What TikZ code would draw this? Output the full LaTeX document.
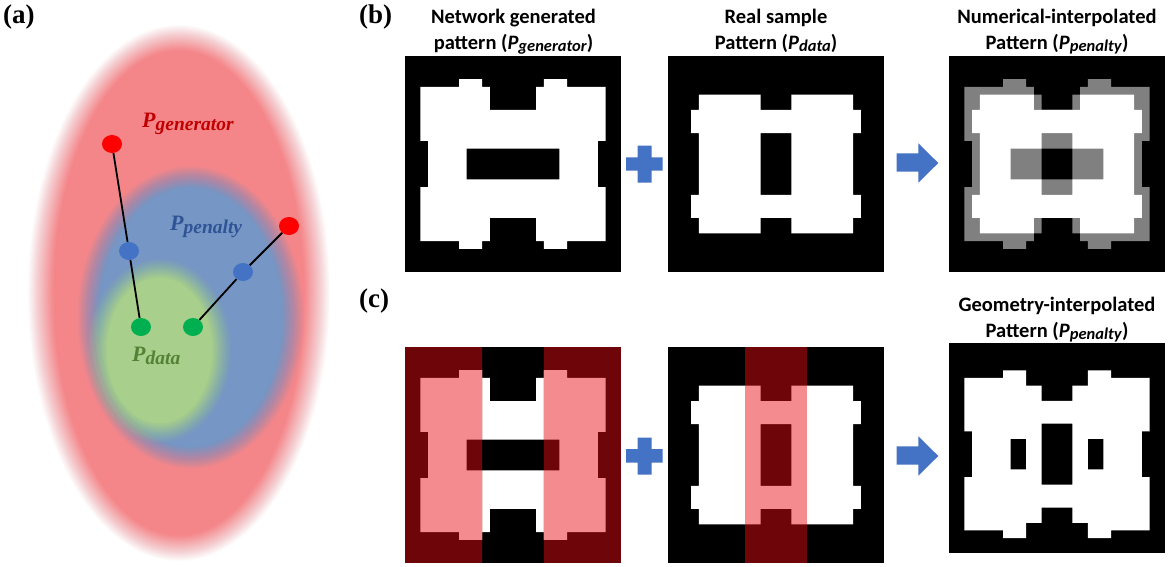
\documentclass[tikz,border=0pt]{standalone}
\usepackage{fontspec}
\setmainfont{Liberation Serif}
\newfontfamily\calfont{Carlito}
\usetikzlibrary{shapes.geometric}
\definecolor{ellred}{RGB}{244,134,138}
\definecolor{ellblue}{RGB}{118,150,197}
\definecolor{ellgreen}{RGB}{168,208,140}
\definecolor{dotred}{RGB}{255,0,0}
\definecolor{dotblue}{RGB}{68,114,196}
\definecolor{dotgreen}{RGB}{0,176,80}
\definecolor{gencol}{RGB}{192,0,0}
\definecolor{pencol}{RGB}{47,84,150}
\definecolor{datcol}{RGB}{84,130,53}
\definecolor{plusblue}{RGB}{68,114,196}
\definecolor{dkred}{RGB}{110,6,9}
\definecolor{pinkc}{RGB}{244,140,143}
\definecolor{grayc}{RGB}{128,128,128}
\newcommand{\blurell}[6]{%
  \foreach \i [evaluate=\i as \op using {1/(30-\i)}] in {0,...,29}{%
    \fill[#6, opacity=\op] (#1,#2) ellipse [x radius={(#3+#5/2-\i*#5/29)*1pt}, y radius={(#4+#5/2-\i*#5/29)*1pt}];
  }%
}
\newcommand{\patA}[1]{#1 (7,3) rectangle (10,4) (18,3) rectangle (21,4)
  (2,4) rectangle (11,7) (17,4) rectangle (26,7)
  (2,7) rectangle (26,11) (3,11) rectangle (25,12)
  (3,12) rectangle (8,16) (20,12) rectangle (25,16)
  (3,16) rectangle (25,17) (2,17) rectangle (26,21)
  (2,21) rectangle (11,24) (17,21) rectangle (26,24)
  (7,24) rectangle (10,25) (18,24) rectangle (21,25);}
\newcommand{\patB}[1]{#1 (4,5) rectangle (12,7) (16,5) rectangle (24,7)
  (3,7) rectangle (25,10)
  (4,10) rectangle (12,18) (16,10) rectangle (24,18)
  (3,18) rectangle (25,21)
  (4,21) rectangle (12,23) (16,21) rectangle (24,23);}
\newcommand{\plusat}[1]{%
  \fill[plusblue, shift={(0pt,-#1pt)}] (626,157.3) -- (637.7,157.3) -- (637.7,145.7) -- (651.7,145.7) -- (651.7,157.3) -- (662.7,157.3) -- (662.7,170.7) -- (651.7,170.7) -- (651.7,182.7) -- (637.7,182.7) -- (637.7,170.7) -- (626,170.7) -- cycle;}
\newcommand{\arrowat}[1]{%
  \fill[plusblue, shift={(0pt,-#1pt)}] (896.7,153.3) -- (918.3,153.3) -- (918.3,143.3) -- (938.3,163) -- (918.3,182.7) -- (918.3,171.7) -- (896.7,171.7) -- cycle;}
\newcommand{\tsub}[1]{\textit{P}\raisebox{-2pt}{\fontsize{16.5}{16.5}\selectfont\textit{#1}}}
\newcommand{\asub}[1]{P\raisebox{-3pt}{\fontsize{19.5}{19.5}\selectfont #1}}
\begin{document}
\begin{tikzpicture}[x=1pt,y=-1pt,
  ttl/.style={font=\calfont\bfseries\fontsize{20.5}{24}\selectfont, inner sep=0pt, anchor=base},
  plab/.style={font=\bfseries\fontsize{27}{27}\selectfont, inner sep=0pt, anchor=base west},
  dlab/.style={font=\bfseries\itshape\fontsize{22}{22}\selectfont, inner sep=0pt, anchor=base west},
  dot/.style={ellipse, minimum width=20pt, minimum height=18pt, inner sep=0pt},
  conn/.style={line width=1.8pt, black},
  cell/.style={x=7.714pt, y=-7.714pt}]
\useasboundingbox (0,0) rectangle (1170,567);
\fill[white] (0,0) rectangle (1170,567);
% ---------- panel (a)
\blurell{179}{293}{138}{255}{26}{ellred}
\blurell{190.5}{317.5}{102.5}{140.5}{22}{ellblue}
\blurell{159.5}{350.5}{62.5}{82.5}{20}{ellgreen}
\node[dot, fill=dotred] (r1) at (112,144) {};
\node[dot, fill=dotblue] (bl1) at (129,251) {};
\node[dot, fill=dotgreen] (g1) at (141,327) {};
\node[dot, fill=dotred] (r2) at (289,226) {};
\node[dot, fill=dotblue] (bl2) at (243,272) {};
\node[dot, fill=dotgreen] (g2) at (193,327) {};
\draw[conn] (r1) -- (bl1);
\draw[conn] (bl1) -- (g1);
\draw[conn] (r2) -- (bl2);
\draw[conn] (bl2) -- (g2);
\node[dlab, text=gencol] (lgen) at (142,128) {\asub{generator}};
\node[dlab, text=pencol] (lpen) at (170,230) {\asub{penalty}};
\node[dlab, text=datcol] (ldat) at (132,361) {\asub{data}};
\node[plab] (pa) at (3,23.2) {(a)};
\node[plab] (pb) at (359,23.2) {(b)};
\node[plab] (pc) at (359,307.2) {(c)};
% ---------- titles
\node[ttl] (t1a) at (513.5,23.5) {Network generated};
\node[ttl] (t1b) at (513.5,49.5) {pattern (\tsub{generator})};
\node[ttl] (t2a) at (776,23.5) {Real sample};
\node[ttl] (t2b) at (776,49.5) {Pattern (\tsub{data})};
\node[ttl] (t3a) at (1057,23.5) {Numerical-interpolated};
\node[ttl] (t3b) at (1057,49.5) {Pattern (\tsub{penalty})};
\node[ttl] (t4a) at (1057,311.5) {Geometry-interpolated};
\node[ttl] (t4b) at (1057,337.5) {Pattern (\tsub{penalty})};
% ---------- (b) patterns
\begin{scope}[shift={(405pt,-56pt)}, cell]
  \fill[black] (0,0) rectangle (28,28);
  \patA{\fill[white]}
\end{scope}
\begin{scope}[shift={(668pt,-56pt)}, cell]
  \fill[black] (0,0) rectangle (28,28);
  \patB{\fill[white]}
\end{scope}
\begin{scope}[shift={(949pt,-56pt)}, cell]
  \fill[black] (0,0) rectangle (28,28);
  \patA{\fill[grayc]}
  \patB{\fill[grayc]}
  \begin{scope}
    \patA{\clip}
    \patB{\fill[white]}
  \end{scope}
\end{scope}
% ---------- (c) patterns
\begin{scope}[shift={(405pt,-347pt)}, cell]
  \fill[black] (0,0) rectangle (28,28);
  \patA{\fill[white]}
  \begin{scope}
    \clip (0,0) rectangle (10,28) (18,0) rectangle (28,28);
    \fill[dkred] (0,0) rectangle (28,28);
    \patA{\fill[pinkc]}
  \end{scope}
\end{scope}
\begin{scope}[shift={(668pt,-347pt)}, cell]
  \fill[black] (0,0) rectangle (28,28);
  \patB{\fill[white]}
  \begin{scope}
    \clip (10,0) rectangle (18,28);
    \fill[dkred] (0,0) rectangle (28,28);
    \patB{\fill[pinkc]}
  \end{scope}
\end{scope}
\fill[black] (949,343) rectangle (1165,553);
\begin{scope}[shift={(949pt,-347.5pt)}, x=7.714pt, y=-7.62pt]
  \begin{scope}
    \clip (0,0) rectangle (10,28) (18,0) rectangle (28,28);
    \patA{\fill[white]}
  \end{scope}
  \begin{scope}
    \clip (10,0) rectangle (18,28);
    \patB{\fill[white]}
  \end{scope}
\end{scope}
% ---------- operators
\plusat{0}
\arrowat{0}
\plusat{291.8}
\arrowat{293}
\end{tikzpicture}
\end{document}
